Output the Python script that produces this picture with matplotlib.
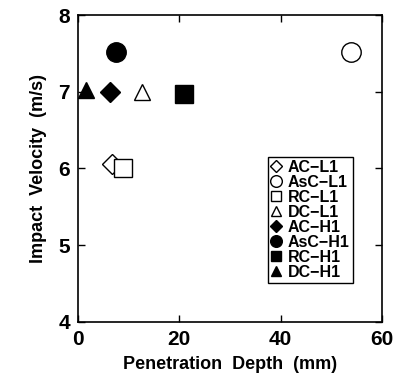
import matplotlib
matplotlib.use('Agg')
import matplotlib.pyplot as plt

plt.rcParams['font.family'] = ['Liberation Sans', 'DejaVu Sans']
plt.rcParams['font.weight'] = 'bold'

# penetration depth (mm), impact velocity (m/s)
labels = ['AC-L1', 'AsC-L1', 'RC-L1', 'DC-L1', 'AC-H1', 'AsC-H1', 'RC-H1', 'DC-H1']
depth = [6.7, 53.9, 8.9, 12.6, 6.3, 7.5, 20.9, 1.5]
velocity = [6.06, 7.52, 6.0, 7.0, 7.0, 7.52, 6.97, 7.02]

markers = ['D', 'o', 's', '^', 'D', 'o', 's', '^']
sizes = [10, 14, 13, 12, 10, 14, 13, 12]
filled = [False] * 4 + [True] * 4

fig = plt.figure(figsize=(4.11, 3.85), dpi=100)
ax = fig.add_axes([0.19, 0.164, 0.739, 0.797])

for i in range(len(labels)):
    ax.plot(depth[i], velocity[i], linestyle='none', marker=markers[i],
            markersize=sizes[i], markeredgecolor='black', markeredgewidth=1.0,
            markerfacecolor='black' if filled[i] else 'white',
            label=labels[i].replace('-', '\u2212'), clip_on=False)

ax.set_xlim(0, 60)
ax.set_ylim(4, 8)
ax.set_xticks([0, 20, 40, 60])
ax.set_yticks([4, 5, 6, 7, 8])
ax.tick_params(direction='in', top=True, right=True, length=5, width=1,
               labelsize=15, pad=6)
for lab in ax.get_xticklabels() + ax.get_yticklabels():
    lab.set_fontweight('bold')
for s in ax.spines.values():
    s.set_linewidth(1.2)

ax.set_xlabel('Penetration  Depth  (mm)', fontsize=13, fontweight='bold', labelpad=5)
ax.set_ylabel('Impact  Velocity  (m/s)', fontsize=13, fontweight='bold', labelpad=8)

leg = ax.legend(loc='lower right', bbox_to_anchor=(0.93, 0.10),
                handlelength=0.6, handletextpad=0.4, labelspacing=0.0,
                borderpad=0.2, markerscale=0.6, fancybox=False, framealpha=1,
                edgecolor='black', prop={'weight': 'bold', 'size': 11.5})
leg.get_frame().set_linewidth(1.0)

fig.savefig('out.png', dpi=100)
